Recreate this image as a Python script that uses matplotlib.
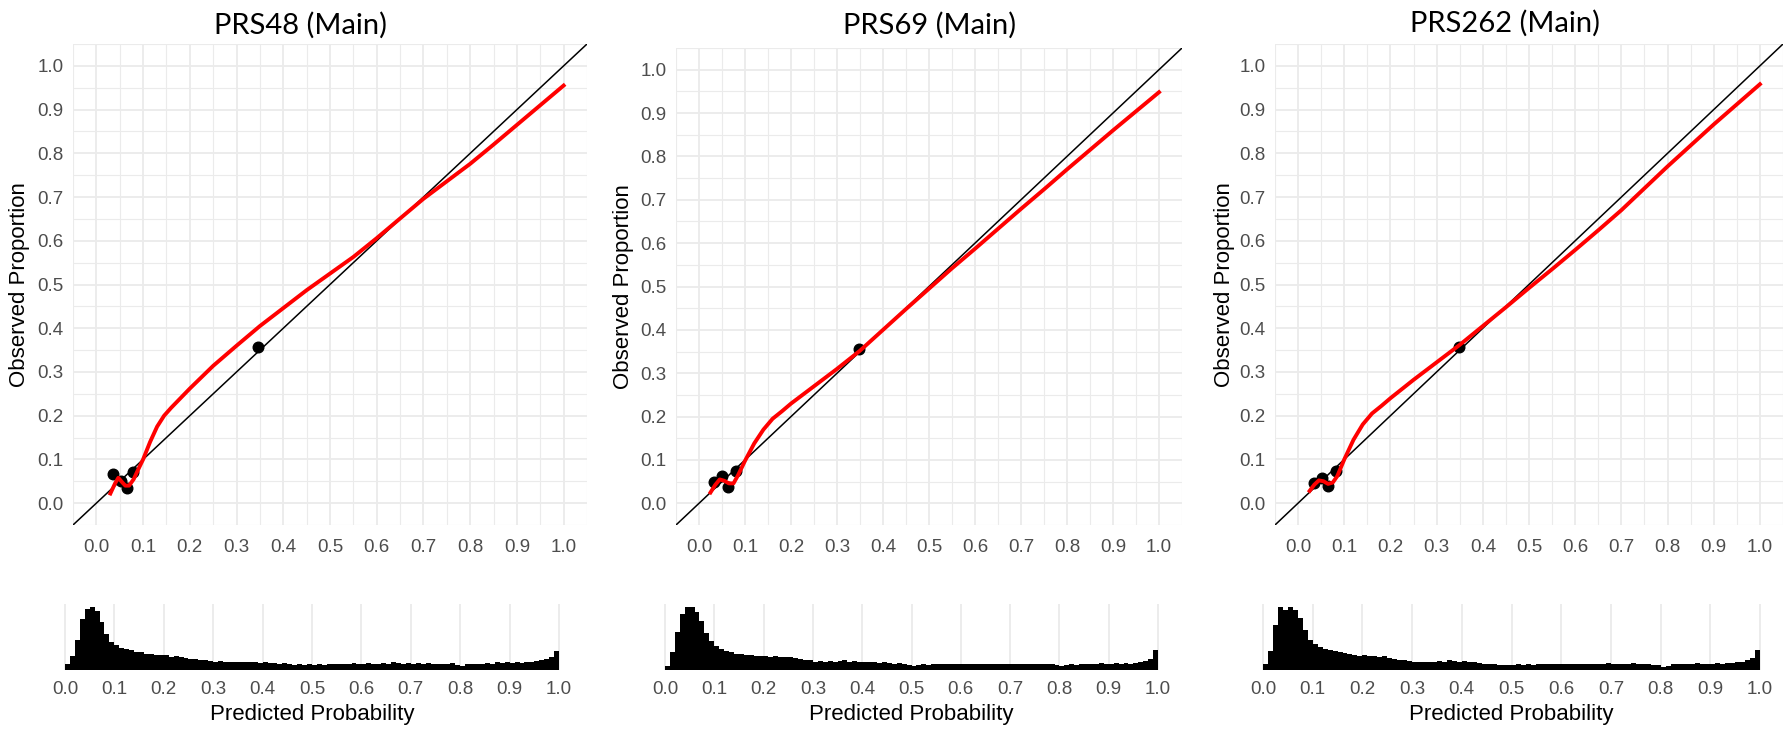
import numpy as np
import matplotlib.pyplot as plt

titles = ['PRS48 (Main)', 'PRS69 (Main)', 'PRS262 (Main)']

# binned calibration points (predicted, observed)
pts_x_48 = [0.035, 0.052, 0.065, 0.079, 0.346]
pts_y_48 = [0.067, 0.050, 0.034, 0.071, 0.358]
pts_x_69 = [0.033, 0.050, 0.064, 0.080, 0.348]
pts_y_69 = [0.049, 0.063, 0.037, 0.074, 0.355]
pts_x_262 = [0.034, 0.052, 0.064, 0.082, 0.348]
pts_y_262 = [0.047, 0.058, 0.040, 0.074, 0.356]

# smoothed calibration curves
curve_x_48 = [0.03, 0.04, 0.047, 0.055, 0.062, 0.07, 0.08, 0.09, 0.10, 0.115, 0.13, 0.145,
              0.16, 0.18, 0.20, 0.25, 0.30, 0.35, 0.40, 0.45, 0.50, 0.55, 0.60, 0.65,
              0.70, 0.75, 0.80, 0.85, 0.90, 0.95, 1.00]
curve_y_48 = [0.022, 0.045, 0.058, 0.048, 0.040, 0.040, 0.055, 0.078, 0.100, 0.140, 0.175, 0.200,
              0.218, 0.240, 0.262, 0.314, 0.360, 0.405, 0.446, 0.487, 0.525, 0.563, 0.606, 0.651,
              0.696, 0.736, 0.776, 0.820, 0.865, 0.910, 0.955]
curve_x_69 = [0.025, 0.035, 0.045, 0.055, 0.065, 0.075, 0.085, 0.10, 0.12, 0.14, 0.16, 0.18,
              0.20, 0.25, 0.30, 0.35, 0.40, 0.45, 0.50, 0.55, 0.60, 0.65, 0.70, 0.75,
              0.80, 0.85, 0.90, 0.95, 1.00]
curve_y_69 = [0.025, 0.042, 0.055, 0.052, 0.046, 0.046, 0.065, 0.098, 0.138, 0.170, 0.195, 0.212,
              0.230, 0.270, 0.310, 0.352, 0.400, 0.448, 0.495, 0.542, 0.587, 0.633, 0.679, 0.724,
              0.770, 0.815, 0.860, 0.904, 0.948]
curve_x_262 = [0.025, 0.035, 0.045, 0.055, 0.065, 0.075, 0.085, 0.10, 0.12, 0.14, 0.16, 0.18,
               0.20, 0.25, 0.30, 0.35, 0.40, 0.45, 0.50, 0.55, 0.60, 0.65, 0.70, 0.75,
               0.80, 0.85, 0.90, 0.95, 1.00]
curve_y_262 = [0.028, 0.042, 0.052, 0.050, 0.044, 0.047, 0.062, 0.100, 0.145, 0.180, 0.205, 0.222,
               0.240, 0.282, 0.322, 0.362, 0.405, 0.448, 0.492, 0.535, 0.579, 0.624, 0.670, 0.720,
               0.770, 0.818, 0.866, 0.912, 0.958]

# histogram of predicted probabilities, 100 bins of 0.01 (relative heights)
hist_48 = [9, 22, 48, 80, 96, 100, 93, 76, 56, 44,
           39, 35, 33, 31, 29, 28, 26, 25, 24, 23,
           23, 21, 22, 20, 19, 18, 18, 16, 15, 14,
           13, 14, 12, 13, 12, 13, 12, 13, 12, 11,
           12, 11, 11, 10, 11, 9, 8, 9, 8, 9,
           8, 9, 8, 9, 10, 9, 10, 9, 11, 10,
           10, 11, 10, 10, 11, 10, 12, 11, 10, 11,
           10, 11, 10, 11, 10, 9, 10, 9, 11, 8,
           7, 9, 10, 9, 10, 11, 10, 12, 11, 12,
           11, 12, 11, 13, 12, 14, 15, 17, 20, 30]
hist_69 = [7, 28, 60, 88, 100, 99, 92, 78, 58, 46,
           38, 33, 30, 28, 26, 25, 24, 23, 22, 22,
           22, 21, 22, 21, 20, 20, 19, 17, 16, 15,
           13, 14, 13, 14, 13, 14, 15, 13, 14, 13,
           12, 13, 12, 11, 12, 11, 10, 11, 9, 8,
           6, 8, 9, 8, 9, 10, 9, 10, 9, 10,
           10, 9, 10, 9, 10, 10, 9, 10, 10, 9,
           10, 9, 10, 10, 9, 10, 9, 10, 9, 8,
           7, 8, 9, 8, 10, 9, 10, 10, 11, 10,
           10, 11, 10, 11, 10, 11, 12, 14, 18, 31]
hist_262 = [9, 30, 70, 97, 92, 98, 93, 80, 61, 47,
            40, 36, 32, 31, 29, 28, 26, 25, 23, 22,
            23, 21, 22, 20, 21, 18, 17, 16, 15, 14,
            13, 12, 13, 12, 13, 14, 13, 15, 14, 13,
            14, 13, 12, 11, 10, 9, 9, 8, 7, 7,
            8, 9, 8, 9, 8, 9, 10, 9, 10, 9,
            10, 9, 10, 9, 10, 10, 9, 10, 10, 11,
            10, 9, 10, 10, 11, 9, 10, 9, 8, 7,
            5, 6, 9, 10, 9, 10, 10, 11, 10, 10,
            10, 11, 10, 11, 11, 12, 13, 15, 19, 31]

panels = [
    (titles[0], pts_x_48, pts_y_48, curve_x_48, curve_y_48, hist_48),
    (titles[1], pts_x_69, pts_y_69, curve_x_69, curve_y_69, hist_69),
    (titles[2], pts_x_262, pts_y_262, curve_x_262, curve_y_262, hist_262),
]

W, H = 1785, 730
# pixel boxes: (left, right, top, bottom) of calibration panel, and histogram panel
top_boxes = [(73, 587, 44, 525), (676, 1182, 48, 525), (1275, 1783, 44, 525)]
hist_boxes = [(60, 564, 604, 670), (660, 1163, 604, 670), (1258, 1765, 604, 670)]
ylab_x = [20, 624, 1224]
title_x = [300, 930, 1505]
title_y = [25, 25, 23]

plt.rcParams['font.family'] = ['Liberation Sans', 'DejaVu Sans']
grid_col = '#EBEBEB'
tick_col = '#4D4D4D'

fig = plt.figure(figsize=(W / 100, H / 100), dpi=100)

ticks = np.round(np.arange(0, 1.01, 0.1), 1)
minor = np.arange(-0.05, 1.06, 0.1)

for i, (title, px, py, cx, cy, hv) in enumerate(panels):
    l, r, t, b = top_boxes[i]
    ax = fig.add_axes([l / W, 1 - b / H, (r - l) / W, (b - t) / H])
    ax.set_xlim(-0.05, 1.05)
    ax.set_ylim(-0.05, 1.05)
    ax.set_xticks(ticks)
    ax.set_yticks(ticks)
    ax.set_xticks(minor, minor=True)
    ax.set_yticks(minor, minor=True)
    ax.set_xticklabels([f'{v:.1f}' for v in ticks])
    ax.set_yticklabels([f'{v:.1f}' for v in ticks])
    ax.grid(True, which='major', color=grid_col, linewidth=1.3)
    ax.grid(True, which='minor', color=grid_col, linewidth=0.8)
    ax.set_axisbelow(True)
    for s in ax.spines.values():
        s.set_visible(False)
    ax.tick_params(which='both', length=0, labelsize=13.5, colors=tick_col)
    ax.tick_params(axis='x', pad=10)
    ax.tick_params(axis='y', pad=7)
    ax.plot([-0.05, 1.05], [-0.05, 1.05], color='black', linewidth=1.1, zorder=2)
    ax.scatter(px, py, s=58, color='black', zorder=3)
    ax.plot(cx, cy, color='#FF0000', linewidth=2.8, zorder=4)
    fig.text(title_x[i] / W, 1 - title_y[i] / H, title, ha='center', va='center',
             fontsize=21, family=['Lato', 'DejaVu Sans'])
    fig.text(ylab_x[i] / W, 1 - (t + b) / 2 / H, 'Observed Proportion', rotation=90,
             ha='center', va='center', fontsize=16)

    # histogram below
    l, r, t, b = hist_boxes[i]
    hx = fig.add_axes([l / W, 1 - b / H, (r - l) / W, (b - t) / H])
    edges = np.linspace(0, 1, len(hv) + 1)
    hx.stairs(hv, edges, fill=True, color='black', linewidth=0)
    hx.set_xlim(-0.01, 1.01)
    hx.set_ylim(0, max(hv) * 1.04)
    hx.set_xticks(ticks)
    hx.set_xticklabels([f'{v:.1f}' for v in ticks])
    hx.set_yticks([])
    hx.grid(True, axis='x', color=grid_col, linewidth=1.3)
    hx.set_axisbelow(True)
    for s in hx.spines.values():
        s.set_visible(False)
    hx.tick_params(length=0, labelsize=13.5, colors=tick_col, pad=8)
    hx.set_xlabel('Predicted Probability', fontsize=16, labelpad=4)

fig.savefig('out.png', dpi=100)
